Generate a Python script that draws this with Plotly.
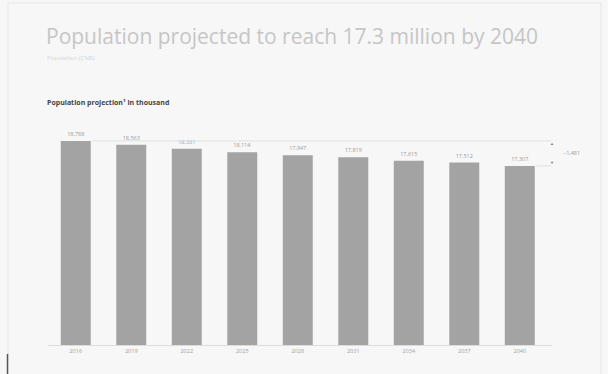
import plotly.graph_objects as go

# Projected population (thousand) by year
years = ["2016", "2019", "2022", "2025", "2028", "2031", "2034", "2037", "2040"]
population = [18788, 18563, 18331, 18114, 17947, 17819, 17615, 17512, 17307]

W, H = 608, 374
L, R, T, B = 48, 56, 120, 29          # plot area: x 48..552, y 120..345
plot_w = W - L - R
plot_h = H - T - B
change = population[-1] - population[0]


def px_x(px):
    """Pixel column -> paper x."""
    return (px - L) / plot_w


def px_y(py):
    """Pixel row (from top) -> paper y."""
    return (H - B - py) / plot_h


def px_cat(px):
    """Pixel column -> category-axis coordinate."""
    return (px - L) / plot_w * len(years) - 0.5


labels = [f"{v:,}" for v in population]

fig = go.Figure(
    go.Bar(
        x=years,
        y=population,
        marker=dict(color="#a3a3a3", line=dict(width=0)),
        width=0.54,
        text=labels,
        textposition="outside",
        textfont=dict(size=5.5, color="#9a9a9a", family="Open Sans"),
        cliponaxis=False,
        hoverinfo="skip",
    )
)

# Axis lower bound keeps the bar differences visible (axis hidden)
fig.update_yaxes(range=[6700, 20030], visible=False, fixedrange=True)
fig.update_xaxes(
    showgrid=False,
    showline=True,
    linecolor="#dcdcdc",
    linewidth=1,
    ticks="",
    tickfont=dict(size=5.5, color="#a0a0a0", family="Open Sans"),
    fixedrange=True,
)

shapes = [
    # reference line at the first year's level
    dict(type="line", xref="x", yref="y", x0=0.3, x1=px_cat(556),
         y0=population[0], y1=population[0], line=dict(color="#e0e0e0", width=1)),
    # reference line at the last year's level
    dict(type="line", xref="x", yref="y", x0=8.3, x1=px_cat(556),
         y0=population[-1], y1=population[-1], line=dict(color="#e0e0e0", width=1)),
    # card frame
    dict(type="rect", xref="paper", yref="paper",
         x0=px_x(8), x1=px_x(601), y0=px_y(380), y1=px_y(3),
         line=dict(color="#e6e6e6", width=1), layer="below"),
    dict(type="line", xref="paper", yref="paper",
         x0=px_x(7.5), x1=px_x(7.5), y0=px_y(376), y1=px_y(354),
         line=dict(color="#555555", width=1.5)),
]

annotations = [
    dict(text="Population projected to reach 17.3 million by 2040",
         xref="paper", yref="paper", x=px_x(44), y=px_y(36),
         xanchor="left", yanchor="middle", showarrow=False,
         font=dict(size=21, color="#c6c6c6", family="Open Sans")),
    dict(text="Population (CNB)",
         xref="paper", yref="paper", x=px_x(45), y=px_y(58),
         xanchor="left", yanchor="middle", showarrow=False,
         font=dict(size=6, color="#d6d6d6", family="Open Sans")),
    dict(text="<b>Population projection¹ in thousand</b>",
         xref="paper", yref="paper", x=px_x(45), y=px_y(103),
         xanchor="left", yanchor="middle", showarrow=False,
         font=dict(size=7, color="#444444", family="Open Sans")),
    # change between first and last year
    dict(text=f"{change:,}".replace("-", "−"),
         xref="paper", yref="y", x=px_x(561),
         y=(population[0] + population[-1]) / 2,
         xanchor="left", yanchor="middle", showarrow=False,
         font=dict(size=5.5, color="#9a9a9a", family="Open Sans")),
    dict(text="▲", xref="paper", yref="y", x=px_x(556), y=population[0],
         yshift=-3, showarrow=False, font=dict(size=4, color="#777777")),
    dict(text="▼", xref="paper", yref="y", x=px_x(556), y=population[-1],
         yshift=3, showarrow=False, font=dict(size=4, color="#777777")),
]

fig.update_layout(
    width=W,
    height=H,
    margin=dict(l=L, r=R, t=T, b=B),
    paper_bgcolor="#f7f7f7",
    plot_bgcolor="#f7f7f7",
    showlegend=False,
    shapes=shapes,
    annotations=annotations,
    font=dict(family="Open Sans"),
)

fig.write_html("out.html")
